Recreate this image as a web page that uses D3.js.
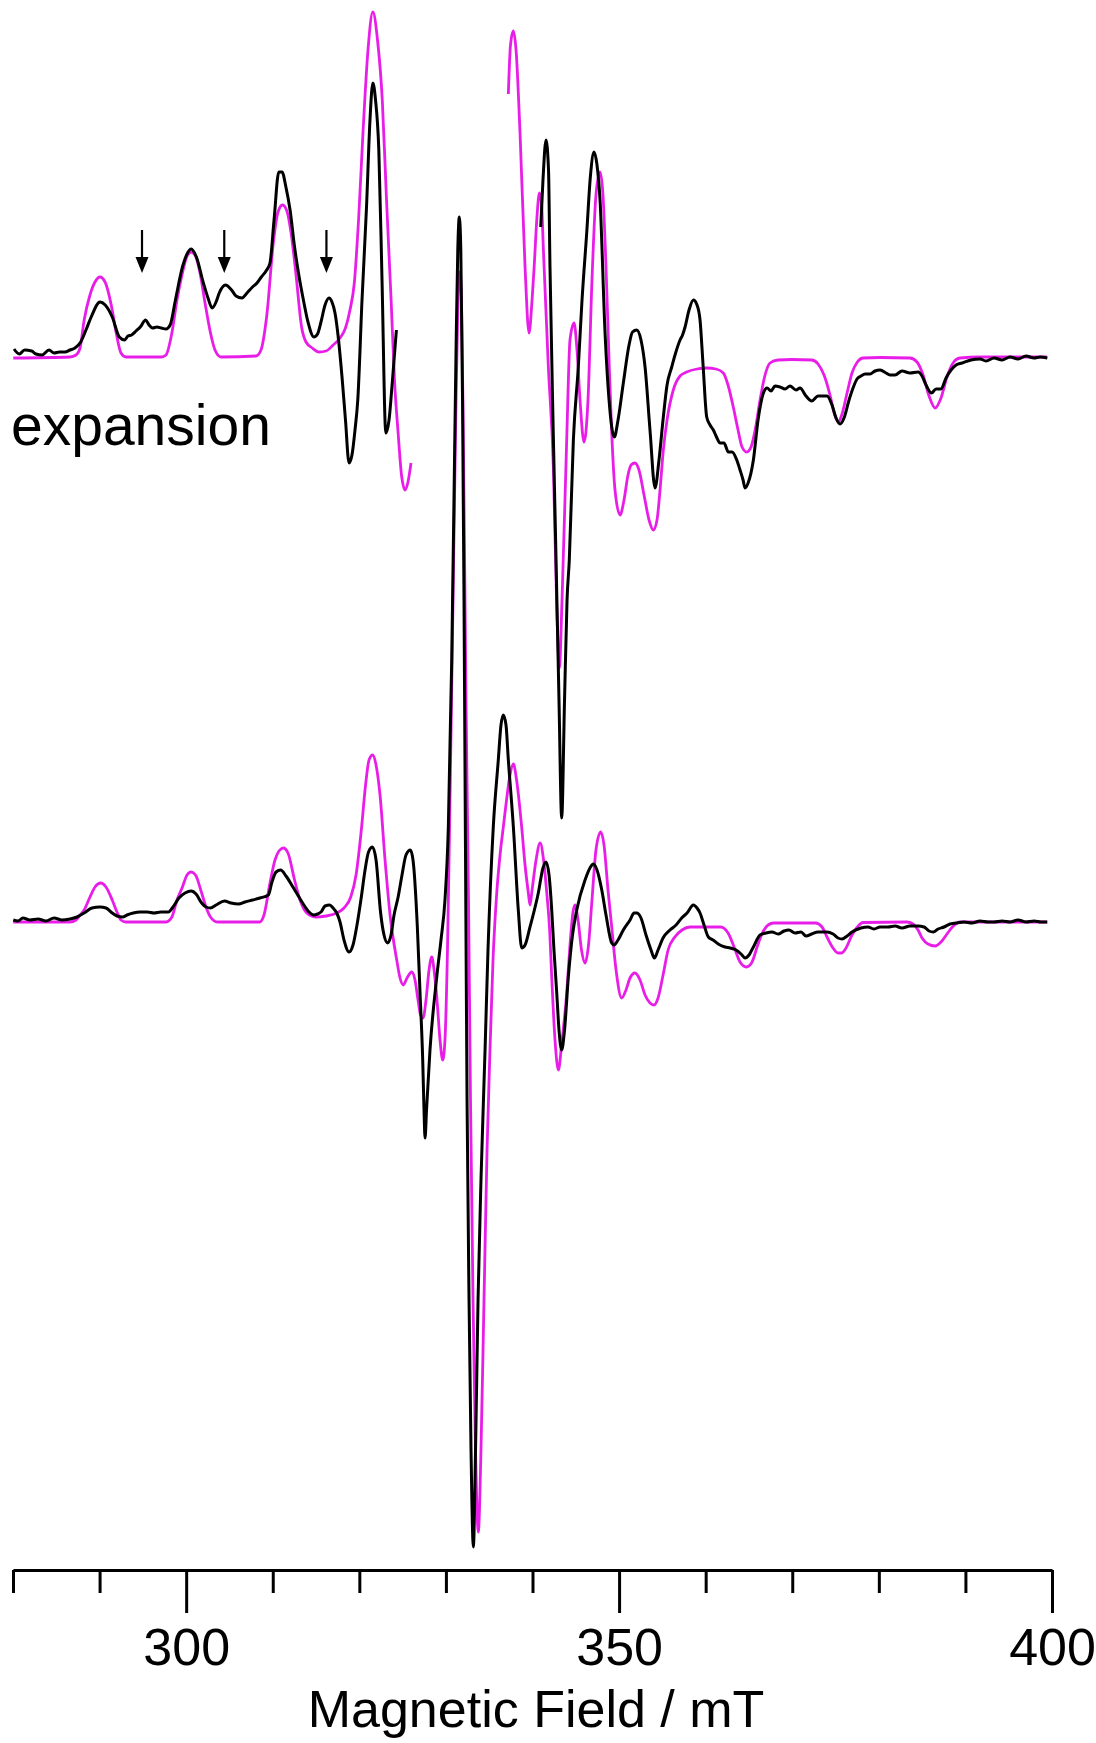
<!DOCTYPE html>
<html lang="en">
<head>
  <meta charset="UTF-8">
  <title>EPR spectrum</title>
  <style>
    body { margin: 0; background: #fff; }
    .exp { fill: none; stroke: #000; stroke-width: 3px; stroke-linejoin: round; }
    .sim { fill: none; stroke: #e81ee8; stroke-width: 2.8px; stroke-linejoin: round; }
    .axis text { font-family: 'Liberation Sans', Arial, sans-serif; font-size: 52px; fill: #000; }
    .axis path, .axis line { stroke: #000; stroke-width: 3px; }
    .label { font-family: 'Liberation Sans', Arial, sans-serif; fill: #000; }
  </style>
</head>
<body>
  <svg width="1096" height="1743"></svg>
  <script src="https://cdn.jsdelivr.net/npm/d3@7/dist/d3.min.js"></script>
  <script>
    // field in mT, intensity in arbitrary units (baseline = 0)
    var majorTicks = [300, 350, 400]
    var minorTicks = [280, 290, 310, 320, 330, 340, 360, 370, 380, 390]
    var arrowFields = [294.9, 304.4, 316.2]
    var expansionOffset = 5.64

    // expansion, experiment (black), low-field part
    var topBlackLeft = [
      [280.12, 0.07], [280.73, 0.02], [281.34, 0.06], [282.15, 0.05], [282.66, 0.02], [283.35, 0.01],
      [284.16, 0.06], [284.74, 0.03], [285.38, 0.04], [286.01, 0.04], [286.58, 0.06], [287.16, 0.08],
      [287.82, 0.14], [288.43, 0.26], [289.03, 0.39], [290.05, 0.54], [290.65, 0.51], [291.46, 0.39],
      [292.28, 0.19], [292.88, 0.16], [293.28, 0.20], [293.69, 0.21], [294.21, 0.25], [294.70, 0.29],
      [295.32, 0.36], [295.71, 0.31], [296.12, 0.28], [296.63, 0.29], [297.13, 0.28], [297.67, 0.27],
      [298.15, 0.31], [298.76, 0.56], [299.57, 0.89], [300.10, 1.02], [300.58, 1.07], [301.18, 0.99],
      [301.99, 0.73], [302.52, 0.58], [303.01, 0.48], [303.45, 0.54], [303.82, 0.63], [304.54, 0.71],
      [305.24, 0.66], [305.76, 0.60], [306.45, 0.58], [307.03, 0.63], [307.66, 0.69], [308.18, 0.73],
      [308.68, 0.79], [309.22, 0.85], [309.68, 0.93], [310.15, 1.36], [310.70, 1.84], [311.07, 1.84],
      [311.52, 1.69], [312.00, 1.46], [312.52, 1.09], [313.03, 0.80], [313.54, 0.56], [314.07, 0.34],
      [314.75, 0.19], [315.17, 0.22], [315.57, 0.34], [316.04, 0.51], [316.50, 0.58], [316.84, 0.54],
      [317.19, 0.43], [317.60, 0.16], [318.00, -0.21], [318.40, -0.64], [318.81, -1.07], [319.15, -0.99],
      [319.50, -0.74], [319.82, -0.44], [320.31, 0.56], [320.83, 1.49], [321.23, 2.36], [321.56, 2.73],
      [321.87, 2.56], [322.25, 2.06], [322.62, 0.76], [323.06, -0.77], [323.43, -0.64], [323.80, -0.27],
      [324.28, 0.26]
    ]

    // expansion, experiment (black), high-field part
    var topBlackRight = [
      [340.95, 1.29], [341.21, 1.76], [341.56, 2.16], [341.85, 1.86], [342.02, 0.89], [342.40, -0.77],
      [342.72, -2.04], [343.06, -3.44], [343.37, -4.62], [343.70, -3.44], [343.99, -2.44], [344.25, -2.04],
      [344.72, -0.84], [345.29, -0.11], [345.72, 0.56], [346.26, 1.23], [346.70, 1.81], [347.11, 2.04],
      [347.45, 1.91], [347.80, 1.56], [348.38, 0.23], [348.84, -0.44], [349.45, -0.81], [349.88, -0.64],
      [350.49, -0.27], [351.15, 0.11], [351.55, 0.24], [352.04, 0.26], [352.53, 0.16], [353.00, -0.11],
      [353.57, -0.74], [354.15, -1.32], [354.61, -1.04], [355.11, -0.61], [355.54, -0.29], [356.08, -0.11],
      [356.46, 0.01], [357.04, 0.16], [357.33, 0.21], [357.62, 0.29], [358.08, 0.46], [358.58, 0.56],
      [359.00, 0.51], [359.35, 0.36], [359.70, -0.09], [360.12, -0.61], [360.50, -0.69], [360.89, -0.74],
      [361.20, -0.80], [361.66, -0.87], [362.12, -0.87], [362.62, -0.96], [363.05, -0.96], [363.59, -1.04],
      [363.97, -1.14], [364.32, -1.24], [364.55, -1.32], [364.90, -1.27], [365.51, -1.04], [366.05, -0.64],
      [366.67, -0.37], [367.09, -0.32], [367.55, -0.35], [368.01, -0.30], [368.59, -0.31], [369.17, -0.33],
      [369.74, -0.30], [370.44, -0.34], [370.90, -0.32], [371.59, -0.40], [372.25, -0.45], [372.98, -0.40],
      [374.02, -0.40], [374.59, -0.49], [375.06, -0.62], [375.52, -0.68], [375.98, -0.62], [376.56, -0.44],
      [377.02, -0.32], [377.48, -0.23], [377.94, -0.20], [378.41, -0.18], [378.98, -0.18], [379.56, -0.15],
      [380.14, -0.14], [380.83, -0.17], [381.29, -0.19], [381.87, -0.19], [382.68, -0.15], [383.60, -0.17],
      [384.53, -0.16], [384.99, -0.20], [385.45, -0.29], [386.08, -0.37], [386.61, -0.33], [387.18, -0.33],
      [387.76, -0.22], [388.34, -0.14], [388.92, -0.09], [389.61, -0.07], [390.65, -0.04], [391.69, -0.03],
      [392.38, -0.05], [393.31, -0.02], [394.23, -0.04], [395.15, -0.01], [396.08, -0.03], [397.00, 0.00],
      [397.93, -0.02], [398.62, -0.01], [399.46, -0.02]
    ]

    // expansion, simulation (magenta), low-field part
    var topSimLeft = [
      [280.03, -0.02], [286.58, -0.01], [287.28, 0.01], [287.74, 0.08], [288.22, 0.36], [288.89, 0.61],
      [289.47, 0.74], [290.05, 0.79], [290.63, 0.74], [291.46, 0.46], [291.90, 0.24], [292.47, 0.03],
      [293.05, -0.01], [297.13, -0.01], [297.67, 0.01], [298.35, 0.23], [298.94, 0.56], [299.57, 0.83],
      [300.10, 1.00], [300.58, 1.04], [301.08, 1.00], [301.60, 0.83], [302.18, 0.53], [302.81, 0.23],
      [303.33, 0.06], [304.02, -0.01], [308.07, 0.00], [308.64, 0.06], [309.29, 0.39], [310.10, 1.16],
      [310.61, 1.44], [311.12, 1.51], [311.59, 1.46], [312.12, 1.23], [312.69, 0.81], [313.33, 0.29],
      [313.84, 0.14], [314.56, 0.08], [315.37, 0.04], [316.15, 0.05], [316.98, 0.11], [317.77, 0.18],
      [318.40, 0.28], [318.92, 0.46], [319.42, 0.73], [319.91, 1.36], [320.42, 2.23], [321.00, 3.06],
      [321.56, 3.44], [322.10, 3.16], [322.65, 2.56], [323.14, 1.56], [323.67, 0.56], [324.06, -0.24],
      [324.48, -0.77], [324.87, -1.19], [325.29, -1.34], [325.62, -1.26], [325.97, -1.07]
    ]

    // expansion, simulation (magenta), high-field part
    var topSimRight = [
      [337.21, 2.62], [337.46, 3.11], [337.79, 3.25], [338.10, 3.06], [338.56, 2.23], [339.14, 0.89],
      [339.60, 0.23], [339.95, 0.56], [340.19, 0.89], [340.53, 1.41], [340.80, 1.63], [341.05, 1.51],
      [341.26, 1.06], [341.83, -0.11], [342.41, -1.11], [342.78, -2.44], [343.10, -3.12], [343.41, -2.44],
      [343.95, -0.84], [344.33, 0.16], [344.80, 0.33], [345.14, 0.06], [345.49, -0.44], [345.95, -0.86],
      [346.41, -0.44], [346.87, 0.76], [347.33, 1.61], [347.80, 1.84], [348.14, 1.61], [348.49, 0.89],
      [348.84, -0.04], [349.15, -0.77], [349.53, -1.34], [350.11, -1.59], [350.57, -1.44], [351.03, -1.19],
      [351.38, -1.09], [351.84, -1.07], [352.30, -1.14], [352.88, -1.39], [353.46, -1.64], [353.95, -1.74],
      [354.38, -1.64], [354.73, -1.34], [355.11, -0.94], [355.54, -0.64], [356.26, -0.34], [357.04, -0.20],
      [357.81, -0.16], [359.00, -0.13], [360.12, -0.12], [361.20, -0.13], [362.04, -0.17], [362.58, -0.29],
      [363.19, -0.51], [363.74, -0.74], [364.20, -0.91], [364.74, -0.96], [365.24, -0.91], [365.82, -0.69],
      [366.28, -0.44], [366.86, -0.19], [367.43, -0.07], [368.36, -0.04], [369.97, -0.035], [372.25, -0.04],
      [372.98, -0.08], [373.67, -0.19], [374.36, -0.39], [374.88, -0.58], [375.32, -0.66], [375.75, -0.58],
      [376.33, -0.37], [376.90, -0.17], [377.52, -0.06], [378.17, -0.02], [380.14, -0.015], [383.60, -0.02],
      [384.41, -0.06], [385.11, -0.19], [385.80, -0.40], [386.51, -0.52], [387.18, -0.42], [387.87, -0.21],
      [388.57, -0.07], [389.38, -0.02], [391.69, -0.01], [395.15, -0.01], [399.43, -0.01]
    ]

    // full spectrum, experiment (black)
    var fullBlack = [
      [280.03, 0.00], [280.58, -0.01], [281.15, 0.02], [281.96, 0.00], [282.89, 0.01], [283.81, -0.01],
      [284.74, 0.02], [285.66, 0.00], [286.58, 0.01], [287.39, 0.03], [288.22, 0.07], [289.12, 0.12],
      [290.05, 0.13], [290.74, 0.12], [291.46, 0.07], [292.01, 0.04], [292.68, 0.03], [293.17, 0.05],
      [293.89, 0.07], [294.67, 0.08], [295.51, 0.08], [296.29, 0.07], [297.09, 0.08], [297.95, 0.08],
      [298.48, 0.13], [299.16, 0.22], [299.87, 0.27], [300.58, 0.29], [301.14, 0.26], [301.79, 0.17],
      [302.29, 0.13], [302.81, 0.12], [303.45, 0.15], [304.43, 0.19], [305.18, 0.17], [306.05, 0.16],
      [306.80, 0.18], [307.66, 0.20], [308.53, 0.22], [309.49, 0.25], [309.91, 0.38], [310.38, 0.48],
      [310.91, 0.50], [311.53, 0.44], [312.33, 0.33], [313.03, 0.23], [313.75, 0.13], [314.19, 0.08],
      [314.75, 0.05], [315.17, 0.06], [315.57, 0.08], [316.04, 0.14], [316.58, 0.15], [316.96, 0.12],
      [317.39, 0.07], [317.77, -0.02], [318.23, -0.20], [318.81, -0.32], [319.27, -0.25], [319.73, -0.05],
      [320.23, 0.23], [320.66, 0.50], [321.06, 0.68], [321.52, 0.73], [321.93, 0.60], [322.46, 0.07],
      [322.85, -0.15], [323.27, -0.23], [323.66, -0.15], [324.01, 0.05], [324.48, 0.23], [324.93, 0.45],
      [325.39, 0.65], [325.90, 0.70], [326.20, 0.60], [326.70, -0.07], [327.01, -0.73], [327.32, -1.40],
      [327.47, -1.90], [327.59, -2.18], [327.76, -1.90], [328.16, -1.30], [328.94, -0.57], [329.43, -0.20],
      [329.89, 0.20], [330.28, 0.93], [330.67, 2.60], [330.93, 4.20], [331.17, 5.70], [331.37, 6.70],
      [331.55, 7.03], [331.72, 6.70], [331.92, 5.20], [332.09, 3.20], [332.26, 0.70], [332.44, -1.80],
      [332.67, -3.80], [332.90, -5.30], [333.17, -6.27], [333.42, -5.30], [333.71, -3.80], [334.05, -2.60],
      [334.52, -1.30], [334.86, -0.30], [335.47, 0.93], [336.05, 1.60], [336.36, 1.95], [336.63, 2.05],
      [336.94, 1.95], [337.21, 1.60], [337.79, 0.93], [338.36, 0.10], [338.75, -0.28], [339.14, -0.25],
      [339.71, -0.07], [340.67, 0.27], [341.21, 0.52], [341.56, 0.58], [341.91, 0.45], [342.22, 0.10],
      [342.48, -0.30], [342.80, -0.73], [343.06, -1.10], [343.37, -1.30], [343.70, -1.10], [344.14, -0.57],
      [344.62, -0.15], [345.11, 0.10], [346.07, 0.40], [346.64, 0.52], [347.02, 0.56], [347.45, 0.50],
      [348.00, 0.30], [348.49, 0.05], [349.15, -0.23], [349.42, -0.25], [349.88, -0.20], [350.49, -0.10],
      [351.27, 0.00], [351.73, 0.07], [352.04, 0.07], [352.53, 0.02], [353.11, -0.15], [353.69, -0.30],
      [354.07, -0.38], [354.50, -0.30], [355.08, -0.18], [355.88, -0.10], [356.58, -0.05], [357.23, 0.02],
      [357.85, 0.07], [358.58, 0.15], [359.00, 0.12], [359.35, 0.07], [359.81, -0.05], [360.31, -0.17],
      [360.85, -0.20], [361.66, -0.25], [362.24, -0.27], [362.82, -0.28], [363.51, -0.30], [364.09, -0.34],
      [364.55, -0.38], [365.01, -0.35], [365.51, -0.27], [366.28, -0.15], [366.97, -0.13], [367.67, -0.12],
      [368.36, -0.14], [369.05, -0.11], [369.62, -0.10], [370.32, -0.13], [371.01, -0.12], [371.59, -0.16],
      [372.25, -0.14], [372.98, -0.12], [374.01, -0.12], [374.71, -0.14], [375.29, -0.18], [375.75, -0.19],
      [376.33, -0.16], [376.90, -0.12], [377.94, -0.08], [378.75, -0.07], [379.44, -0.09], [380.14, -0.07],
      [381.06, -0.07], [381.87, -0.06], [382.68, -0.08], [383.60, -0.06], [384.53, -0.06], [385.22, -0.07],
      [385.80, -0.11], [386.29, -0.12], [386.84, -0.09], [387.53, -0.07], [388.22, -0.04], [388.92, -0.03],
      [389.84, -0.02], [390.76, -0.03], [391.69, -0.01], [392.61, -0.02], [393.31, -0.02], [394.23, -0.01],
      [395.15, -0.02], [396.08, 0.00], [397.00, -0.02], [397.93, -0.01], [398.73, -0.02], [399.46, -0.02]
    ]

    // full spectrum, simulation (magenta)
    var fullSim = [
      [280.03, -0.02], [286.58, -0.02], [287.28, 0.00], [287.74, 0.05], [288.22, 0.10], [288.89, 0.23],
      [289.47, 0.33], [290.13, 0.37], [290.74, 0.33], [291.46, 0.20], [292.01, 0.08], [292.47, 0.00],
      [293.05, -0.02], [297.67, -0.02], [298.35, 0.03], [298.94, 0.20], [299.57, 0.33], [300.10, 0.45],
      [300.58, 0.48], [301.08, 0.45], [301.79, 0.27], [302.29, 0.13], [302.81, 0.03], [303.62, -0.02],
      [308.48, -0.02], [308.99, 0.05], [309.68, 0.37], [310.26, 0.60], [310.72, 0.69], [311.23, 0.72],
      [311.76, 0.67], [312.52, 0.40], [313.15, 0.20], [313.94, 0.07], [314.96, 0.03], [316.15, 0.04],
      [317.39, 0.07], [318.23, 0.12], [319.01, 0.23], [319.62, 0.45], [320.23, 0.90], [320.72, 1.35],
      [321.12, 1.60], [321.55, 1.65], [321.93, 1.55], [322.39, 1.25], [322.97, 0.60], [323.55, 0.05],
      [324.32, -0.40], [324.70, -0.58], [325.08, -0.65], [325.51, -0.58], [326.05, -0.52], [326.43, -0.60],
      [326.78, -0.80], [327.07, -0.95], [327.36, -0.98], [327.70, -0.80], [328.05, -0.50], [328.36, -0.37],
      [328.63, -0.50], [328.97, -0.80], [329.32, -1.20], [329.63, -1.40], [329.89, -1.20], [330.18, -0.30],
      [330.47, 1.20], [330.82, 3.20], [331.17, 5.20], [331.40, 6.20], [331.61, 6.48], [331.80, 6.20],
      [332.03, 4.70], [332.32, 2.20], [332.61, 0.20], [332.84, -1.80], [333.13, -3.80], [333.42, -5.30],
      [333.74, -6.12], [334.05, -5.30], [334.40, -3.80], [334.75, -2.30], [335.09, -1.30], [335.44, -0.40],
      [335.87, 0.27], [336.25, 0.65], [336.63, 0.93], [337.00, 1.20], [337.40, 1.45], [337.79, 1.56],
      [338.16, 1.40], [338.75, 0.93], [339.14, 0.55], [339.52, 0.27], [339.71, 0.15], [339.95, 0.30],
      [340.41, 0.60], [340.88, 0.77], [341.28, 0.60], [341.65, 0.27], [341.98, -0.10], [342.22, -0.57],
      [342.60, -1.20], [342.99, -1.50], [343.36, -1.25], [343.95, -0.73], [344.33, -0.25], [344.68, 0.08],
      [344.91, 0.15], [345.26, 0.00], [345.66, -0.30], [346.07, -0.43], [346.47, -0.25], [346.87, 0.20],
      [347.33, 0.70], [347.88, 0.88], [348.26, 0.75], [348.72, 0.30], [349.15, -0.07], [349.65, -0.50],
      [350.30, -0.78], [350.80, -0.70], [351.26, -0.58], [351.84, -0.53], [352.42, -0.60], [353.00, -0.75],
      [353.57, -0.83], [354.04, -0.85], [354.50, -0.78], [355.08, -0.55], [355.66, -0.30], [356.44, -0.17],
      [357.27, -0.10], [358.20, -0.07], [359.07, -0.07], [360.51, -0.07], [361.72, -0.07], [362.59, -0.13],
      [363.28, -0.27], [363.97, -0.42], [364.70, -0.47], [365.36, -0.42], [365.94, -0.27], [366.55, -0.13],
      [367.21, -0.05], [367.86, -0.03], [372.69, -0.03], [373.44, -0.07], [374.01, -0.17], [374.71, -0.28],
      [375.29, -0.33], [375.67, -0.33], [376.21, -0.28], [376.90, -0.15], [377.52, -0.07], [378.17, -0.025],
      [383.22, -0.02], [383.95, -0.04], [384.53, -0.10], [384.99, -0.18], [385.68, -0.24], [386.51, -0.26],
      [387.18, -0.22], [387.87, -0.14], [388.49, -0.07], [389.38, -0.02], [399.43, -0.02]
    ]

    var svg = d3.select('svg')

    var xScale = d3.scaleLinear().domain([280, 400]).range([13, 1052])
    var yScale = d3.scaleLinear().domain([-6.5, 9.2]).range([1570, 0])

    function lineWith(offset) {
      return d3.line()
        .x(function(d) { return xScale(d[0]) })
        .y(function(d) { return yScale(d[1] + offset) })
        .curve(d3.curveMonotoneX)
    }

    var g = svg.append('g')

    // simulations under, experiment on top
    g.append('path').datum(fullSim).attr('class', 'sim').attr('d', lineWith(0))
    g.append('path').datum(topSimLeft).attr('class', 'sim').attr('d', lineWith(expansionOffset))
    g.append('path').datum(topSimRight).attr('class', 'sim').attr('d', lineWith(expansionOffset))
    g.append('path').datum(fullBlack).attr('class', 'exp').attr('d', lineWith(0))
    g.append('path').datum(topBlackLeft).attr('class', 'exp').attr('d', lineWith(expansionOffset))
    g.append('path').datum(topBlackRight).attr('class', 'exp').attr('d', lineWith(expansionOffset))

    // arrows over the expansion
    var arrowTop = yScale(expansionOffset + 1.26)
    var arrowTip = yScale(expansionOffset + 0.83)
    var arrows = g.selectAll('.arrow').data(arrowFields).enter().append('g').attr('class', 'arrow')
    arrows.append('line')
      .attr('x1', function(d) { return xScale(d) })
      .attr('x2', function(d) { return xScale(d) })
      .attr('y1', arrowTop)
      .attr('y2', arrowTip - 10)
      .attr('stroke', '#000')
      .attr('stroke-width', 2.2)
    arrows.append('path')
      .attr('d', function(d) {
        var x = xScale(d)
        return 'M' + (x - 6.5) + ',' + (arrowTip - 16) + 'L' + (x + 6.5) + ',' + (arrowTip - 16) + 'L' + x + ',' + arrowTip + 'Z'
      })
      .attr('fill', '#000')

    svg.append('text')
      .attr('class', 'label')
      .attr('x', 11)
      .attr('y', 445)
      .attr('font-size', '57px')
      .text('expansion')

    // axis: minor ticks then major ticks with labels
    var axisY = yScale(-6.5)
    svg.append('g')
      .attr('class', 'axis')
      .attr('transform', 'translate(0,' + axisY + ')')
      .call(d3.axisBottom(xScale).tickValues(minorTicks).tickSize(23).tickSizeOuter(0).tickFormat(''))
    svg.append('g')
      .attr('class', 'axis')
      .attr('transform', 'translate(0,' + axisY + ')')
      .call(d3.axisBottom(xScale).tickValues(majorTicks).tickSize(43).tickSizeOuter(0).tickPadding(15))
      .select('.domain').remove()

    svg.append('text')
      .attr('class', 'label')
      .attr('x', 536)
      .attr('y', 1727)
      .attr('text-anchor', 'middle')
      .attr('font-size', '52px')
      .text('Magnetic Field / mT')
  </script>
</body>
</html>
